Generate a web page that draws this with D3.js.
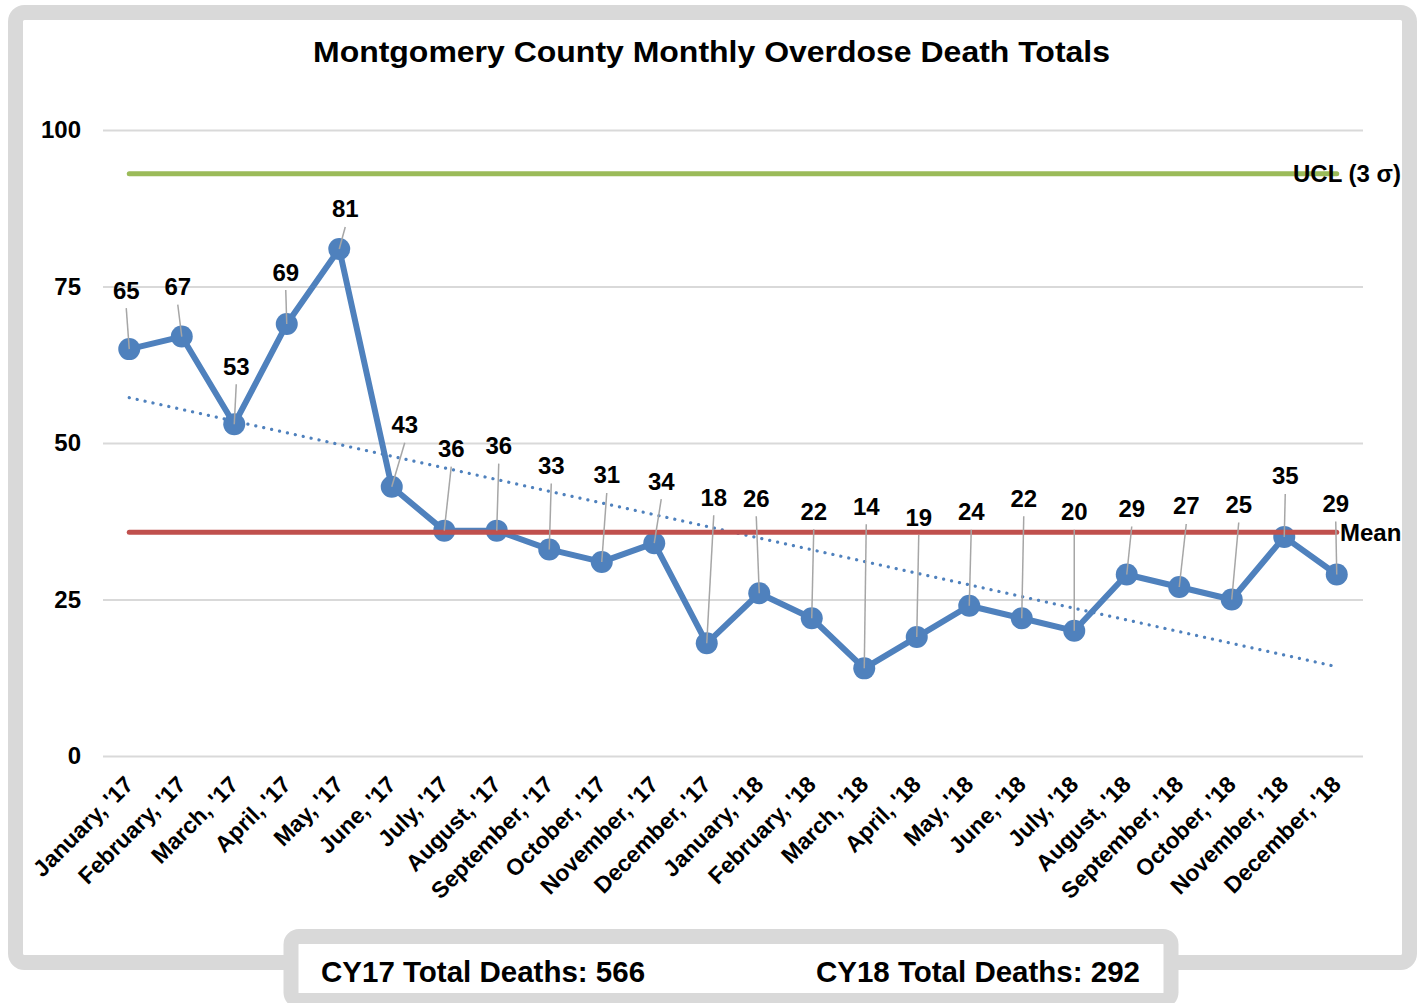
<!DOCTYPE html>
<html lang="en">
<head>
<meta charset="utf-8" />
<title>Montgomery County Monthly Overdose Death Totals</title>
<script src="https://d3js.org/d3.v7.min.js"></script>
<style>
  body { margin: 0; background: #fff; }
  svg text { font-family: "Liberation Sans", Arial, sans-serif; font-weight: bold; fill: #000; }
</style>
</head>
<body>
<script>
  // chart data
  var months = ["January, '17", "February, '17", "March, '17", "April, '17", "May, '17", "June, '17",
                "July, '17", "August, '17", "September, '17", "October, '17", "November, '17", "December, '17",
                "January, '18", "February, '18", "March, '18", "April, '18", "May, '18", "June, '18",
                "July, '18", "August, '18", "September, '18", "October, '18", "November, '18", "December, '18"];
  var deaths = [65, 67, 53, 69, 81, 43, 36, 36, 33, 31, 34, 18,
                26, 22, 14, 19, 24, 22, 20, 29, 27, 25, 35, 29];
  var yTicks = [0, 25, 50, 75, 100];
  var ucl = 93;
  var totals = ["CY17 Total Deaths: 566", "CY18 Total Deaths: 292"];
  // where each value label sits relative to its point (px)
  var labelOffsets = [[-3,-59], [-4,-50], [2,-58], [-1,-52], [6,-40], [13,-62], [7,-82], [2,-85],
                      [2,-84], [5,-87], [7,-62], [7,-146], [-3,-95], [2,-107], [2,-162], [2,-120],
                      [2,-94], [2,-120], [0,-119], [5,-66], [7,-81], [7,-95], [1,-61], [-1,-71]];

  var w = 1423, h = 1003;
  var blue = "#4f81bd";

  var svg = d3.select("body").append("svg")
              .attr("width", w)
              .attr("height", h);

  // outer frame
  svg.append("rect")
     .attr("x", 15.5).attr("y", 12.5)
     .attr("width", 1394).attr("height", 950)
     .attr("rx", 9)
     .style("fill", "#fff")
     .style("stroke", "#d9d9d9")
     .style("stroke-width", 15);

  svg.append("text")
     .attr("x", 313).attr("y", 62)
     .attr("textLength", 797)
     .attr("lengthAdjust", "spacingAndGlyphs")
     .style("font-size", "29px")
     .text("Montgomery County Monthly Overdose Death Totals");

  var x = d3.scalePoint()
            .domain(months)
            .range([103, 1363])
            .padding(0.5);
  var y = d3.scaleLinear()
            .domain([0, 100])
            .range([756, 130]);

  // gridlines + y labels
  var yAxis = d3.axisLeft(y).tickValues(yTicks).tickSize(-1260).tickPadding(22);
  var gy = svg.append("g")
              .attr("transform", "translate(103,0)")
              .call(yAxis);
  gy.select(".domain").remove();
  gy.selectAll(".tick line").style("stroke", "#d9d9d9").style("stroke-width", 2);
  gy.selectAll(".tick text").style("font-size", "24px").attr("font-family", null);

  // x labels
  var xAxis = d3.axisBottom(x).tickSize(0).tickPadding(0);
  var gx = svg.append("g")
              .attr("transform", "translate(0,756)")
              .call(xAxis);
  gx.select(".domain").remove();
  gx.selectAll(".tick text")
    .attr("font-family", null)
    .style("font-size", "23px")
    .attr("text-anchor", "end")
    .attr("dy", null)
    .attr("y", 0)
    .attr("transform", "translate(5,30) rotate(-45)");

  // UCL
  svg.append("line")
     .attr("x1", x(months[0])).attr("x2", x(months[months.length - 1]))
     .attr("y1", y(ucl)).attr("y2", y(ucl))
     .style("stroke", "#9bbb59").style("stroke-width", 5).style("stroke-linecap", "round");
  svg.append("text")
     .attr("x", 1293).attr("y", y(ucl) + 8.5)
     .style("font-size", "24px")
     .text("UCL (3 σ)");

  // trend line (least squares)
  var n = deaths.length;
  var mx = (n - 1) / 2, my = d3.mean(deaths);
  var sxy = d3.sum(deaths, function(d, i){ return (i - mx) * (d - my); });
  var sxx = d3.sum(deaths, function(d, i){ return (i - mx) * (i - mx); });
  var slope = sxy / sxx, icpt = my - slope * mx;
  svg.append("line")
     .attr("x1", x(months[0])).attr("x2", x(months[n - 1]))
     .attr("y1", y(icpt)).attr("y2", y(icpt + slope * (n - 1)))
     .style("stroke", blue).style("stroke-width", 3.2)
     .style("stroke-linecap", "round")
     .style("stroke-dasharray", "0.1 8");

  // series
  var line = d3.line()
               .x(function(d, i){ return x(months[i]); })
               .y(function(d){ return y(d); });
  svg.append("path")
     .datum(deaths)
     .attr("d", line)
     .style("fill", "none")
     .style("stroke", blue)
     .style("stroke-width", 6)
     .style("stroke-linejoin", "round");
  svg.selectAll("circle.pt")
     .data(deaths)
     .enter()
     .append("circle")
     .attr("class", "pt")
     .attr("cx", function(d, i){ return x(months[i]); })
     .attr("cy", function(d){ return y(d); })
     .attr("r", 11)
     .style("fill", blue);

  // mean
  var mean = d3.mean(deaths);
  svg.append("line")
     .attr("x1", x(months[0])).attr("x2", x(months[n - 1]))
     .attr("y1", y(mean)).attr("y2", y(mean))
     .style("stroke", "#c0504d").style("stroke-width", 5).style("stroke-linecap", "round");
  svg.append("text")
     .attr("x", 1340).attr("y", y(mean) + 8.5)
     .style("font-size", "24px")
     .text("Mean");

  // leader lines + value labels
  svg.selectAll("line.leader")
     .data(deaths)
     .enter()
     .append("line")
     .attr("class", "leader")
     .attr("x1", function(d, i){ return x(months[i]) + labelOffsets[i][0]; })
     .attr("y1", function(d, i){ return y(d) + labelOffsets[i][1] + 18; })
     .attr("x2", function(d, i){ return x(months[i]); })
     .attr("y2", function(d){ return y(d); })
     .style("stroke", "#a6a6a6")
     .style("stroke-width", 1.5);
  svg.selectAll("text.val")
     .data(deaths)
     .enter()
     .append("text")
     .attr("class", "val")
     .attr("x", function(d, i){ return x(months[i]) + labelOffsets[i][0]; })
     .attr("y", function(d, i){ return y(d) + labelOffsets[i][1] + 8.5; })
     .attr("text-anchor", "middle")
     .style("font-size", "24px")
     .text(function(d){ return d; });

  // totals box
  svg.append("rect")
     .attr("x", 291).attr("y", 936.5)
     .attr("width", 880).attr("height", 64)
     .attr("rx", 8)
     .style("fill", "#fff")
     .style("stroke", "#d9d9d9")
     .style("stroke-width", 15);
  svg.selectAll("text.total")
     .data(totals)
     .enter()
     .append("text")
     .attr("class", "total")
     .attr("x", function(d, i){ return i == 0 ? 321 : 1140; })
     .attr("y", 982)
     .attr("text-anchor", function(d, i){ return i == 0 ? "start" : "end"; })
     .style("font-size", "29.5px")
     .text(function(d){ return d; });
</script>
</body>
</html>
